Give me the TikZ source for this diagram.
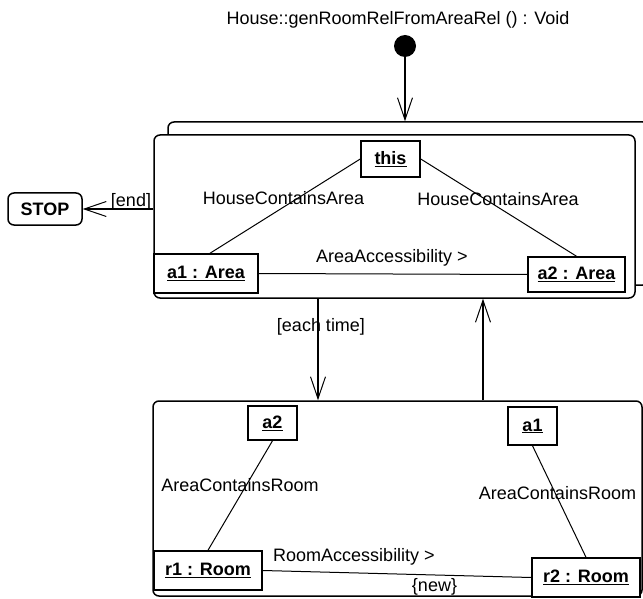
\documentclass[tikz,border=0pt]{standalone}
\usepackage{fontspec}
\setmainfont{Liberation Sans}
\usetikzlibrary{arrows.meta}
\newcommand{\diagfont}{\fontsize{18}{21}\selectfont}
\newcommand{\objname}[1]{\underline{#1}}
\tikzset{
  frame/.style={draw, line width=1.5pt, rounded corners=6pt, fill=white, inner sep=0pt},
  obj/.style={draw, line width=1.5pt, fill=white, inner sep=0pt, font=\diagfont\bfseries},
  lbl/.style={inner sep=0pt, font=\diagfont},
  link/.style={line width=1pt},
  flow/.style={line width=1.2pt, -{Straight Barb[length=22pt,width=15pt,line width=1pt]}},
}
\begin{document}
\begin{tikzpicture}[x=1pt,y=-1pt]
\useasboundingbox (0,0) rectangle (643,599);
\clip (0,0) rectangle (643,599);

% method signature and start state
\node[lbl] (title) at (398,20) {House::genRoomRelFromAreaRel () : Void};
\node[circle, fill, inner sep=0pt, minimum size=22pt] (start) at (405,46) {};

% for-each activity (stacked frames) and the body activity
\node[frame, minimum width=481pt, minimum height=163pt] (loopB) at (408.5,203.5) {};
\node[frame, minimum width=481pt, minimum height=163pt] (loopF) at (394.5,216.5) {};
\node[frame, minimum width=489pt, minimum height=195pt] (body) at (397.5,498.5) {};

% objects of the loop pattern
\node[obj, minimum width=59pt, minimum height=36pt] (this) at (390.5,159) {\objname{this}};
\node[obj, minimum width=104pt, minimum height=39pt] (a1) at (206,273.5) {\objname{a1 : Area}};
\node[obj, minimum width=97pt, minimum height=35pt] (a2) at (576.5,274.5) {\objname{a2 : Area}};

% objects of the body pattern
\node[obj, minimum width=49pt, minimum height=34pt] (ba2) at (272.5,423) {\objname{a2}};
\node[obj, minimum width=49pt, minimum height=38pt] (ba1) at (532.5,426) {\objname{a1}};
\node[obj, minimum width=108pt, minimum height=39pt] (r1) at (208,570.5) {\objname{r1 : Room}};
\node[obj, minimum width=108pt, minimum height=39pt] (r2) at (586,577.5) {\objname{r2 : Room}};

% stop state
\node[obj, rounded corners=6pt, minimum width=74pt, minimum height=32pt] (stop) at (45,209) {STOP};

% links
\draw[link] (this.west) -- ([xshift=4pt]a1.north);
\draw[link] (this.east) -- (a2.north);
\draw[link] (a1.east) -- (a2.west);
\draw[link] (ba2.south) -- (r1.north);
\draw[link] (ba1.south) -- (r2.north);
\draw[link] (r1.east) -- (r2.west);

% link labels
\node[lbl] (hca1) at (283.5,198) {HouseContainsArea};
\node[lbl] (hca2) at (498,199) {HouseContainsArea};
\node[lbl] (aacc) at (392,258) {AreaAccessibility >};
\node[lbl] (acr1) at (240,485) {AreaContainsRoom};
\node[lbl] (acr2) at (557.5,493) {AreaContainsRoom};
\node[lbl] (racc) at (354,557) {RoomAccessibility >};
\node[lbl] (new) at (434.5,587) {\{new\}};

% transitions
\coordinate (eachx) at (318,0);
\coordinate (backx) at (483,0);
\draw[flow] (start) -- (start |- loopB.north);
\draw[flow] (loopF.west |- stop.east) -- (stop.east);
\draw[flow] (loopF.south -| eachx) -- (body.north -| eachx);
\draw[flow] (body.north -| backx) -- (loopF.south -| backx);
\node[lbl] (endlbl) at (131,202) {[end]};
\node[lbl] (eachlbl) at (321,327) {[each time]};
\end{tikzpicture}
\end{document}
